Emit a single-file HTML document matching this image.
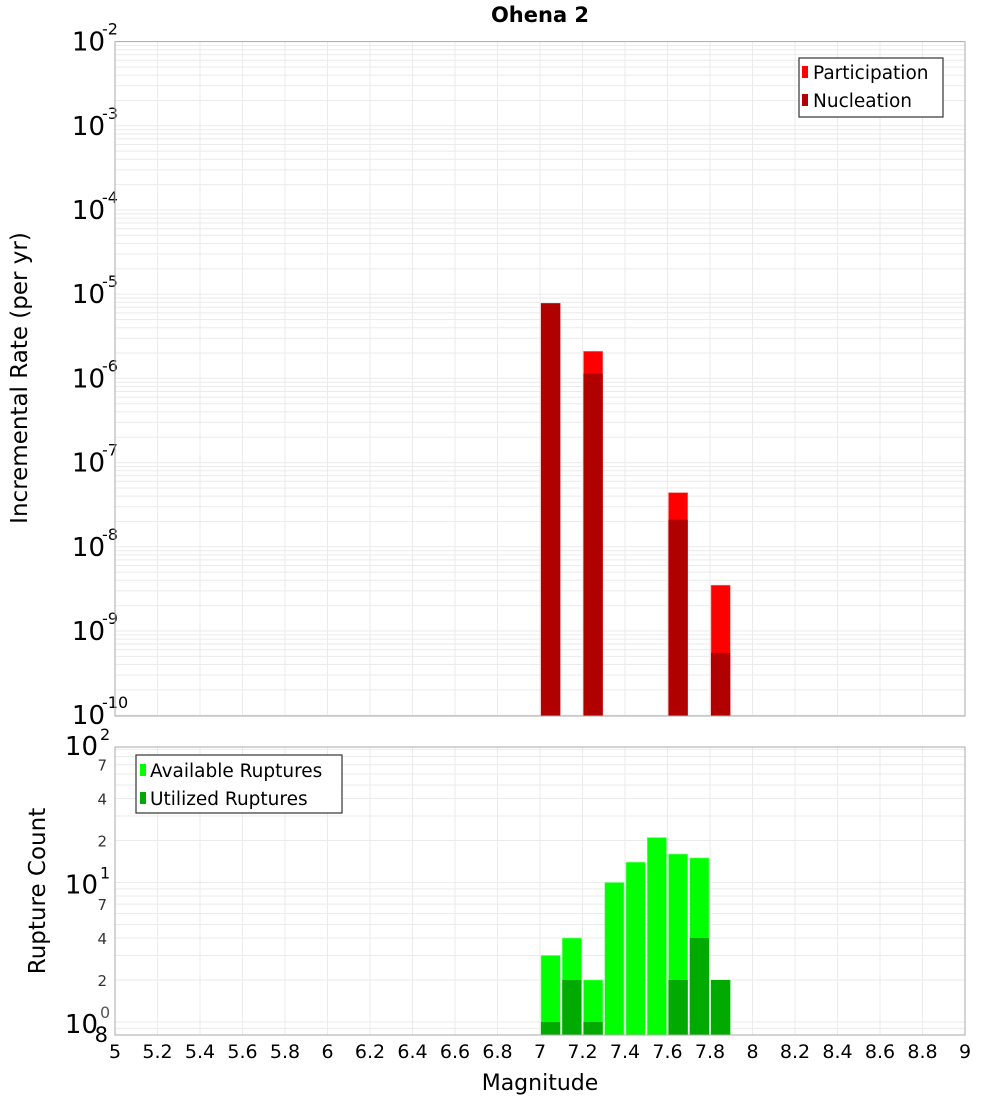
<!DOCTYPE html>
<html><head><meta charset="utf-8"><style>
body{margin:0;background:#fff;}
svg{display:block;font-family:"DejaVu Sans","Liberation Sans",sans-serif;}
</style></head><body>
<svg id="chart" width="1000" height="1100" viewBox="0 0 1000 1100" xmlns="http://www.w3.org/2000/svg">
<text x="540" y="22" text-anchor="middle" font-size="21" font-weight="bold">Ohena 2</text>
<g id="top"></g>
<g id="bot"></g>
<text transform="translate(27,378) rotate(-90)" text-anchor="middle" font-size="23">Incremental Rate (per yr)</text>
<text transform="translate(45,891) rotate(-90)" text-anchor="middle" font-size="23">Rupture Count</text>
<text x="540" y="1090" text-anchor="middle" font-size="22">Magnitude</text>
<g>
<rect x="799" y="58" width="144" height="59" fill="#fff" stroke="#333" stroke-width="1.2"/>
<rect x="802" y="66" width="6" height="12" fill="#ff0000"/>
<text x="813" y="79" font-size="18.5">Participation</text>
<rect x="802" y="94" width="6" height="12" fill="#b00000"/>
<text x="813" y="107" font-size="18.5">Nucleation</text>
</g>
<g>
<rect x="136" y="755" width="206" height="58" fill="#fff" stroke="#333" stroke-width="1.2"/>
<rect x="140" y="764" width="6" height="12" fill="#00ff00"/>
<text x="150" y="777" font-size="18.5">Available Ruptures</text>
<rect x="140" y="792" width="6" height="12" fill="#00aa00"/>
<text x="150" y="805" font-size="18.5">Utilized Ruptures</text>
</g>
</svg>
<script>
const xTicks = [5,5.2,5.4,5.6,5.8,6,6.2,6.4,6.6,6.8,7,7.2,7.4,7.6,7.8,8,8.2,8.4,8.6,8.8,9];
const rateMags = [7.05,7.25,7.65,7.85];
const participation = [7.8e-6,2.1e-6,4.4e-8,3.5e-9];
const nucleation = [7.8e-6,1.14e-6,2.1e-8,5.5e-10];
const rateExps = [-2,-3,-4,-5,-6,-7,-8,-9,-10];
const countMags = [7.05,7.15,7.25,7.35,7.45,7.55,7.65,7.75,7.85];
const available = [3,4,2,10,14,21,16,15,2];
const utilized = [1,2,1,0,0,0,2,4,2];
const countMinorLabels = [7,4,2];

const NS="http://www.w3.org/2000/svg";
const svg=document.getElementById('chart');
const topG=document.getElementById('top'), botG=document.getElementById('bot');
function mk(p,tag,at){const e=document.createElementNS(NS,tag);for(const k in at)e.setAttribute(k,at[k]);p.appendChild(e);return e;}
const X0=115,X1=965;
const xs=m=>X0+(m-5)/4*(X1-X0);
const T0=41.6,TD=84.2,TB=716;
const yTop=v=>T0+(-2-Math.log10(v))*TD;
const B0=747,BB=1035,BONE=1022,BD=139.5;
const yBot=v=>BONE-Math.log10(v)*BD;

function grid(g,y0,y1){
  xTicks.forEach(t=>{const l=mk(g,'line',{x1:xs(t),x2:xs(t),y1:y0,y2:y1,stroke:'#ebebeb','stroke-width':1});
    
    });
}
grid(topG,T0,TB);
for(let e=-10;e<-2;e++){for(let k=1;k<10;k++){const y=yTop(k*Math.pow(10,e));if(y<T0-0.5||y>TB)continue;
  const l=mk(topG,'line',{x1:X0,x2:X1,y1:y,y2:y,stroke:'#ebebeb','stroke-width':1});
  
  }}
rateExps.forEach(e=>{const y=yTop(Math.pow(10,e));
  const t=mk(topG,'text',{x:105,y:y+9,'text-anchor':'end','font-size':26});
  
  
  t.textContent='10';
  const s=mk(topG,'text',{x:102,y:y-7,'font-size':16});
  
  
  s.textContent=String(e);});
const bw=(X1-X0)/40;
rateMags.forEach((m,i)=>{
  const x=xs(m)-bw/2+1;
  const a=mk(topG,'rect',{x:x,y:yTop(participation[i]),width:bw-2,height:TB-yTop(participation[i]),fill:'#ff0000',stroke:'#ff8080','stroke-width':0.6});
  
  
  const b=mk(topG,'rect',{x:x,y:yTop(nucleation[i]),width:bw-2,height:TB-yTop(nucleation[i]),fill:'#b00000'});
  
  
});
mk(topG,'rect',{x:X0,y:T0,width:X1-X0,height:TB-T0,fill:'none',stroke:'#aaa','stroke-width':1});

grid(botG,B0,BB);
for(let e=-1;e<2;e++){for(let k=1;k<10;k++){const y=yBot(k*Math.pow(10,e));if(y<B0||y>BB)continue;
  const l=mk(botG,'line',{x1:X0,x2:X1,y1:y,y2:y,stroke:'#ebebeb','stroke-width':1});
  
  }}
[[2,751],[1,BONE-BD],[0,BONE]].forEach(([e,yy])=>{
  const t=mk(botG,'text',{x:98,y:e===2?755:yy+11,'text-anchor':'end','font-size':26});
  
  
  t.textContent='10';
  const s=mk(botG,'text',{x:100,y:(e===2?755:yy+11)-15,'font-size':16,fill:e===0?'#555':'#000'});
  
  
  s.textContent=String(e);});
[0,1].forEach(e=>countMinorLabels.forEach(k=>{const y=yBot(k*Math.pow(10,e));
  const t=mk(botG,'text',{x:107,y:y+6,'text-anchor':'end','font-size':15,fill:'#333'});
  
  
  t.textContent=String(k);}));
const t8=mk(botG,'text',{x:108,y:1042,'text-anchor':'end','font-size':21});


t8.textContent='8';
countMags.forEach((m,i)=>{
  const x=xs(m)-bw/2+1;
  const a=mk(botG,'rect',{x:x,y:yBot(available[i]),width:bw-2,height:BB-yBot(available[i]),fill:'#00ff00',stroke:'#80ff80','stroke-width':0.6});
  
  
  if(utilized[i]>0){
  const b=mk(botG,'rect',{x:x,y:yBot(utilized[i]),width:bw-2,height:BB-yBot(utilized[i]),fill:'#00aa00'});
  
  }
});
mk(botG,'rect',{x:X0,y:B0,width:X1-X0,height:BB-B0,fill:'none',stroke:'#aaa','stroke-width':1});
xTicks.forEach(t=>{
  const tx=mk(botG,'text',{x:xs(t),y:1058,'text-anchor':'middle','font-size':19});
  
  
  tx.textContent=String(t);});
</script>
</body></html>
